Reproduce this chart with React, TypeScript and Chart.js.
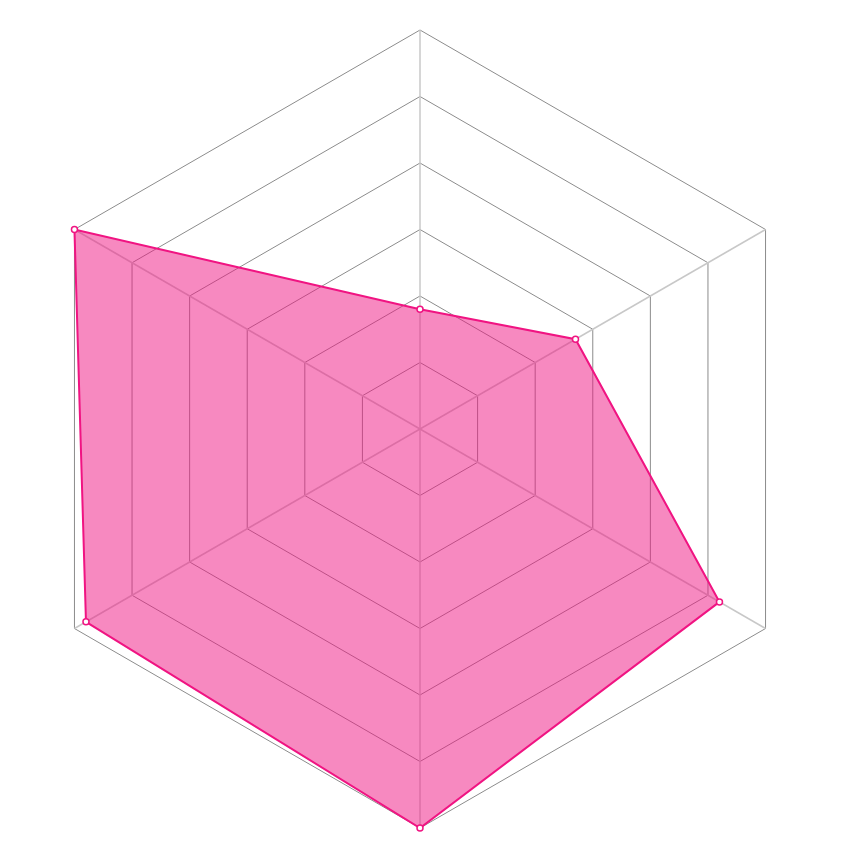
import React, { useEffect, useRef } from "react";
import { Chart, registerables } from "chart.js";

Chart.register(...registerables);

const categories = ["A", "B", "C", "D", "E", "F"];
const seriesValues = [18, 27, 52, 60, 58, 60];
const scaleMax = 60;
const scaleStep = 10;

export default function App() {
  const ref = useRef<HTMLCanvasElement | null>(null);
  useEffect(() => {
    if (!ref.current) return;
    const chart = new Chart(ref.current, {
      type: "radar",
      data: {
        labels: categories,
        datasets: [
          {
            label: "Series",
            data: seriesValues,
            backgroundColor: "rgba(240, 20, 130, 0.5)",
            borderColor: "rgb(240, 20, 130)",
            borderWidth: 2,
            pointRadius: 3,
            pointBorderWidth: 1.5,
            pointBackgroundColor: "#ffffff",
            pointBorderColor: "rgb(240, 20, 130)",
            fill: true,
          },
        ],
      },
      options: {
        responsive: false,
        animation: false,
        layout: { padding: { left: 13, right: 13, top: 22, bottom: 22 } },
        plugins: { legend: { display: false }, tooltip: { enabled: false } },
        scales: {
          r: {
            min: 0,
            max: scaleMax,
            ticks: { display: false, stepSize: scaleStep },
            pointLabels: { display: false },
            grid: { color: "#8c8c8c", lineWidth: 1 },
            angleLines: { color: "#c8c8c8", lineWidth: 1.5 },
          },
        },
      },
    });
    return () => chart.destroy();
  }, []);
  return <canvas ref={ref} width={824} height={842} style={{ display: "block" }} />;
}
